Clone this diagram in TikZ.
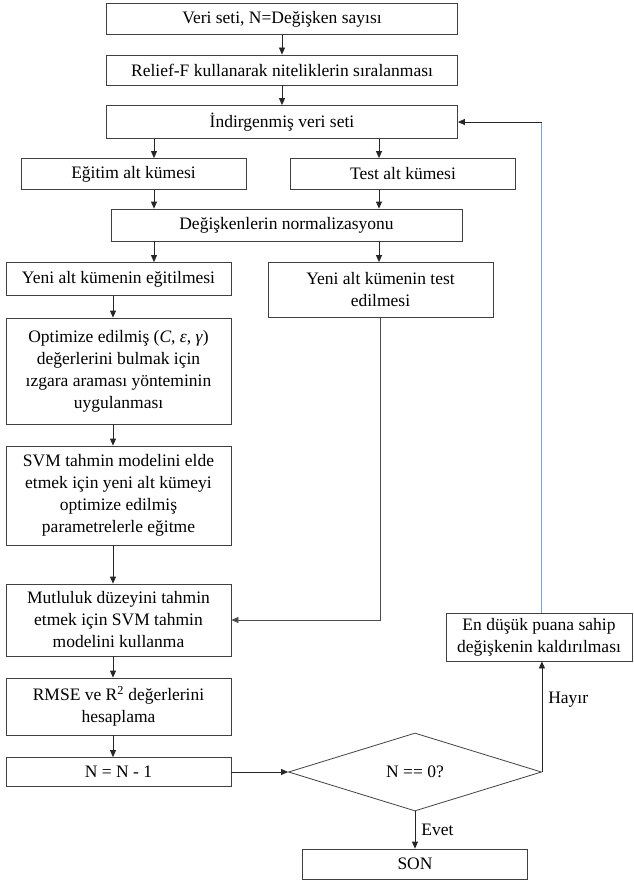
\documentclass[tikz,border=0pt]{standalone}
\usepackage{fontspec}
\setmainfont{Liberation Serif}
\usetikzlibrary{arrows.meta,calc,positioning,shapes.geometric}
\tikzset{kutu/.style={draw=black!75,line width=0.8pt,align=center,inner sep=2pt,
    font=\fontsize{17.5}{22}\selectfont,minimum height=31pt},
  genis/.style={minimum width=351pt},
  dar/.style={minimum width=225pt},
  karar/.style={diamond,aspect=3,draw=black!75,line width=0.8pt,inner sep=0pt,
    minimum width=253pt,minimum height=78pt,font=\fontsize{17.5}{22}\selectfont},
  etiket/.style={font=\fontsize{17.5}{22}\selectfont,inner sep=2pt},
  ok/.style={-{Triangle[length=7pt,width=6pt]},draw=black!85,line width=0.8pt},
  mavi/.style={draw={rgb,255:red,124;green,163;blue,214},line width=1pt}}
\begin{document}
\begin{tikzpicture}[x=1pt,y=-1pt]
\useasboundingbox (0,0) rectangle (633,883);
\node[kutu,genis] (veri) at (282,19) {Veri seti, N=Değişken sayısı};
\node[kutu,genis,minimum height=30pt] (relief) at (282,70) {Relief-F kullanarak niteliklerin sıralanması};
\node[kutu,genis,minimum height=33pt] (ind) at (282,122) {İndirgenmiş veri seti};
\node[kutu,dar] (egitim) at (133.5,174) {Eğitim alt kümesi};
\node[kutu,dar] (test) at (403,174) {Test alt kümesi};
\node[kutu,genis,minimum height=32pt] (norm) at (286.5,225) {Değişkenlerin normalizasyonu};
\node[kutu,dar,minimum height=33pt] (yegitim) at (118.5,279) {Yeni alt kümenin eğitilmesi};
\node[kutu,dar,minimum height=55pt] (ytest) at (380.5,290) {Yeni alt kümenin test\\edilmesi};
\node[kutu,dar,minimum height=106pt] (izgara) at (118.5,371) {Optimize edilmiş (\textit{C}, \textit{ε}, \textit{γ})\\değerlerini bulmak için\\ızgara araması yönteminin\\uygulanması};
\node[kutu,dar,minimum height=99pt] (svm) at (118.5,495.5) {SVM tahmin modelini elde\\etmek için yeni alt kümeyi\\optimize edilmiş\\parametrelerle eğitme};
\node[kutu,dar,minimum height=72pt] (tahmin) at (118.5,620) {Mutluluk düzeyini tahmin\\etmek için SVM tahmin\\modelini kullanma};
\node[kutu,dar,minimum height=57pt] (rmse) at (118.5,706.5) {RMSE ve R\textsuperscript{2} değerlerini\\hesaplama};
\node[kutu,dar,minimum height=29pt] (azalt) at (118.5,772) {N = N - 1};
\node[karar] (kosul) at (415,772) {N == 0?};
\node[kutu,minimum width=186pt,minimum height=48pt] (kaldir) at (539,637) {En düşük puana sahip\\değişkenin kaldırılması};
\node[kutu,dar,minimum height=30pt] (son) at (415,864) {SON};
\coordinate (sol) at (154,0);
\coordinate (sag) at (379,0);
\coordinate (orta) at (113,0);
\foreach \a/\b in {veri/relief,relief/ind}
  \draw[ok] (\a.south) -- (\b.north);
\foreach \a/\b/\c in {ind/egitim/sol,ind/test/sag,egitim/norm/sol,test/norm/sag,norm/yegitim/sol,norm/ytest/sag}
  \draw[ok] (\a.south -| \c) -- (\b.north -| \c);
\foreach \a/\b in {yegitim/izgara,izgara/svm,svm/tahmin,tahmin/rmse,rmse/azalt}
  \draw[ok] (\a.south -| orta) -- (\b.north -| orta);
\draw[ok,draw=black!70] (ytest.south) |- (tahmin.east);
\draw[ok] (azalt.east) -- (kosul.west);
\draw[ok] (kosul.south) -- node[etiket,right=4pt]{Evet} (son.north);
\draw[ok] (kosul.east) -- node[etiket,pos=0.65,right=4pt]{Hayır} (kosul.east |- kaldir.south);
\path (kosul.east |- ind.east) coordinate (donus);
\draw[mavi] (kosul.east |- kaldir.north) -- (donus);
\draw[ok] (donus) -- (ind.east);
\end{tikzpicture}
\end{document}
